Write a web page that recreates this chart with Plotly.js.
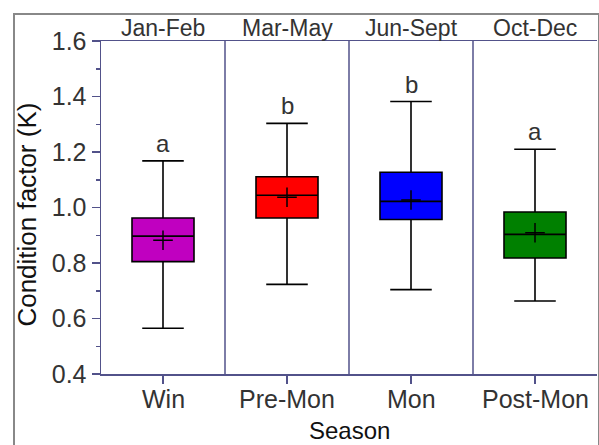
<!DOCTYPE html>
<html>
<head>
<meta charset="utf-8">
<script src="https://cdn.plot.ly/plotly-3.0.1.min.js"></script>
<style>
html,body{margin:0;padding:0;background:#fff;overflow:hidden;}
#wrap{position:relative;width:599px;height:445px;overflow:hidden;}
#chart{position:absolute;left:0;top:0;width:599px;height:445px;z-index:1;}
#frame{position:absolute;left:13px;top:13px;width:583px;height:500px;border:2px solid #888888;pointer-events:none;z-index:5;}
</style>
</head>
<body>
<div id="wrap"><div id="chart"></div><div id="frame"></div></div>
<script>
// Data
const seasons = ["Win", "Pre-Mon", "Mon", "Post-Mon"];
const months = ["Jan-Feb", "Mar-May", "Jun-Sept", "Oct-Dec"];
const letters = ["a", "b", "b", "a"];
const lowerWhisker = [0.565, 0.723, 0.704, 0.663];
const q1Vals = [0.805, 0.962, 0.957, 0.818];
const medianVals = [0.897, 1.044, 1.022, 0.903];
const q3Vals = [0.962, 1.111, 1.127, 0.984];
const upperWhisker = [1.168, 1.303, 1.382, 1.210];
const meanVals = [0.882, 1.037, 1.027, 0.909];
const boxColors = ["#c000c0", "#ff0000", "#0000ff", "#008000"];
const yTicks = [0.4, 0.6, 0.8, 1.0, 1.2, 1.4, 1.6];

const FONT = "Liberation Sans, Arial, sans-serif";
const AXIS = "#52528a";

const traces = seasons.map((s, i) => ({
  type: "box",
  x: [i],
  q1: [q1Vals[i]],
  median: [medianVals[i]],
  q3: [q3Vals[i]],
  lowerfence: [lowerWhisker[i]],
  upperfence: [upperWhisker[i]],
  fillcolor: boxColors[i],
  line: {color: "#000", width: 1.6},
  width: 0.5,
  whiskerwidth: 0.67,
  boxpoints: false,
  hoverinfo: "skip",
  showlegend: false
}));

traces.push({
  type: "scatter",
  mode: "markers",
  x: seasons.map((s, i) => i),
  y: meanVals,
  marker: {symbol: "cross-thin", size: 14, line: {color: "#000", width: 1.5}},
  hoverinfo: "skip",
  showlegend: false
});

const shapes = [];
for (let i = 0; i < seasons.length - 1; i++) {
  shapes.push({type: "line", xref: "x", yref: "paper", x0: i + 0.5, x1: i + 0.5, y0: 0, y1: 1,
    line: {color: AXIS, width: 1.5}});
}

const annotations = [];
months.forEach((m, i) => {
  annotations.push({x: i, xref: "x", y: 1, yref: "paper", yanchor: "bottom", yshift: -2,
    text: m, showarrow: false, font: {family: FONT, size: 23, color: "#333"}});
});
letters.forEach((l, i) => {
  annotations.push({x: i, xref: "x", y: upperWhisker[i], yref: "y", yanchor: "bottom", yshift: 2,
    text: l, showarrow: false, font: {family: FONT, size: 24, color: "#333"}});
});
seasons.forEach((s, i) => {
  annotations.push({x: i, xref: "x", y: 0, yref: "paper", yanchor: "top", yshift: -9,
    text: s, showarrow: false, font: {family: FONT, size: 25, color: "#333"}});
});
annotations.push({x: 0.5, xref: "paper", y: 0, yref: "paper", yanchor: "top", yshift: -41,
  text: "Season", showarrow: false, font: {family: FONT, size: 24, color: "#111"}});
annotations.push({x: -0.149, xref: "paper", y: 0.479, yref: "paper", xanchor: "center", yanchor: "middle",
  textangle: -90, text: "Condition factor (K)", showarrow: false, font: {family: FONT, size: 26, color: "#111"}});

const layout = {
  width: 599, height: 445,
  margin: {l: 101, r: 2, t: 41, b: 71},
  paper_bgcolor: "rgba(0,0,0,0)", plot_bgcolor: "rgba(0,0,0,0)",
  font: {family: FONT, color: "#333"},
  boxmode: "overlay",
  xaxis: {
    type: "linear", range: [-0.5, 3.5],
    tickvals: seasons.map((s, i) => i), showticklabels: false,
    showline: true, linecolor: AXIS, linewidth: 1.5, mirror: true,
    ticks: "outside", ticklen: 8, tickwidth: 1.5, tickcolor: AXIS,
    showgrid: false, zeroline: false
  },
  yaxis: {
    range: [0.4, 1.6],
    tickvals: yTicks, ticktext: yTicks.map(v => v.toFixed(1)),
    showline: true, linecolor: AXIS, linewidth: 1.5,
    ticks: "outside", ticklen: 8, tickwidth: 1.5, tickcolor: AXIS,
    minor: {ticks: "outside", ticklen: 4, dtick: 0.1, tick0: 0.4, tickcolor: AXIS, tickwidth: 1.5, showgrid: false},
    showgrid: false, zeroline: false,
    tickfont: {family: FONT, size: 25, color: "#333"}
  },
  shapes: shapes,
  annotations: annotations
};

Plotly.newPlot("chart", traces, layout, {displayModeBar: false, staticPlot: true});
</script>
</body>
</html>
